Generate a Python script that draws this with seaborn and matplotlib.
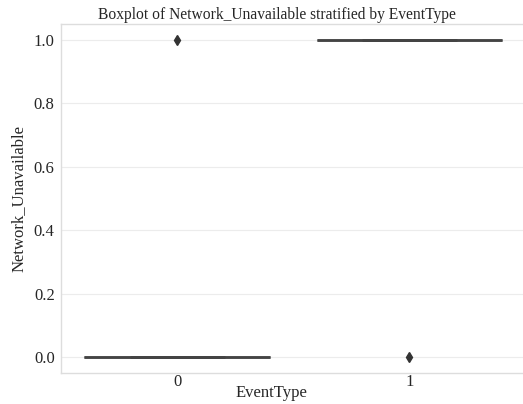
import matplotlib
matplotlib.use("Agg")
import matplotlib.pyplot as plt
import seaborn as sns
import pandas as pd

event_types = [0, 1]
# per-category values: mostly constant, one outlier each
values_type0 = [0.0] * 20 + [1.0]
values_type1 = [1.0] * 20 + [0.0]

df = pd.DataFrame({
    "EventType": [0] * len(values_type0) + [1] * len(values_type1),
    "Network_Unavailable": values_type0 + values_type1,
})

sns.set_theme(style="whitegrid")
plt.rcParams['font.family'] = ['Liberation Serif', 'DejaVu Serif']

fig, ax = plt.subplots(figsize=(5.23, 4.04), dpi=100)
sns.boxplot(data=df, x="EventType", y="Network_Unavailable", ax=ax,
            order=event_types,
            color="#4c72b0", linecolor="#444444", linewidth=1.8,
            flierprops=dict(marker="d", markerfacecolor="#333333",
                            markeredgecolor="#333333", markersize=5))
ax.set_title("Boxplot of Network_Unavailable stratified by EventType",
             fontsize=11.2, pad=4, x=0.4645)
ax.set_xlabel("EventType", fontsize=12, labelpad=1)
ax.xaxis.set_label_coords(0.454, -0.0815, transform=ax.transAxes)
ax.xaxis.label.set_va("bottom")
ax.set_ylabel("Network_Unavailable", fontsize=12, labelpad=5)
ax.tick_params(axis="x", labelsize=12, pad=1.0, length=0)
ax.tick_params(axis="y", labelsize=12, pad=4.5, length=0)
ax.xaxis.grid(False)
ax.yaxis.grid(True, color="#ececec", linewidth=0.8)
for s in ax.spines.values():
    s.set_color("#dddddd")
    s.set_linewidth(1.0)
fig.subplots_adjust(left=0.1166, right=1.005, top=0.94, bottom=0.077)
fig.savefig("out.png", dpi=100)
